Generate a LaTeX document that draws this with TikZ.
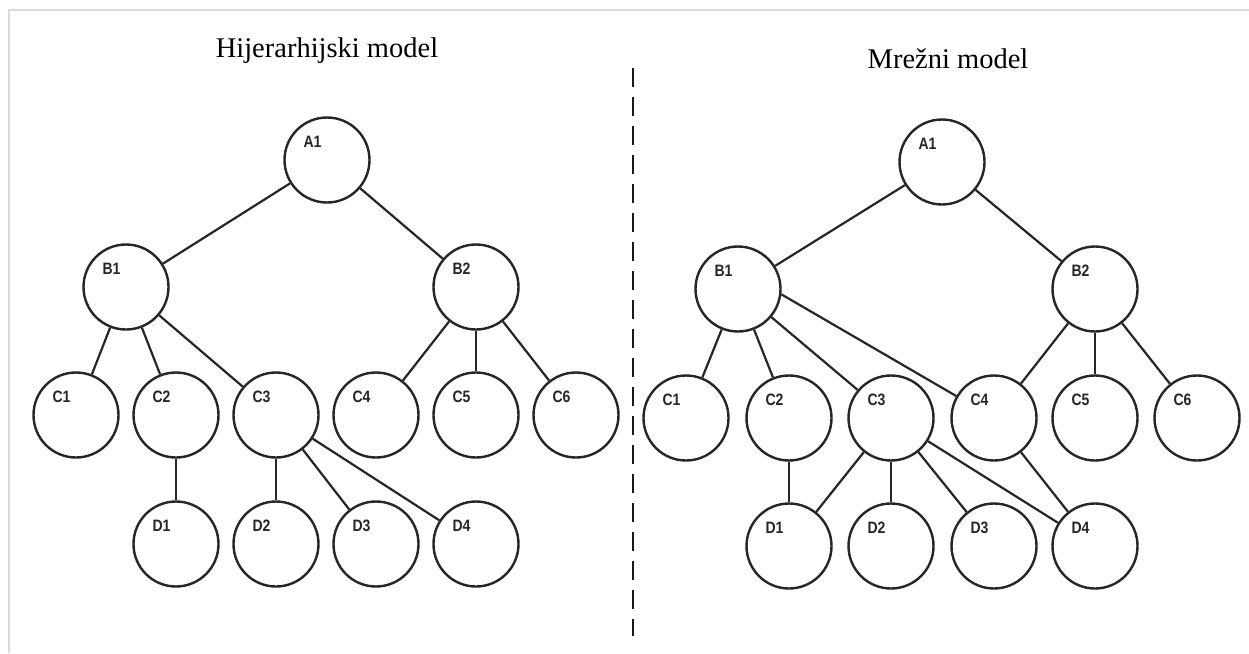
\documentclass[tikz,border=0pt]{standalone}
\usepackage{fontspec}
\setmainfont{Liberation Serif}
\newfontfamily\labfont[FakeStretch=0.85]{Liberation Sans Bold}
\begin{document}
\begin{tikzpicture}[x=1pt,y=-1pt,
  nd/.style={circle,draw=black!85,line width=2.4pt,minimum size=85pt,inner sep=0pt},
  lb/.style={font=\labfont\fontsize{16.5}{16.5}\selectfont,text=black!85,inner sep=0pt},
  ln/.style={draw=black!85,line width=2.2pt},
  ttl/.style={font=\fontsize{28.5}{30}\selectfont,inner sep=0pt,anchor=base}]
\useasboundingbox (0,0) rectangle (1249,653);
\fill[white] (0,0) rectangle (1249,653);
% frame
\draw[line width=2pt,black!15] (9,653) -- (9,9.5) -- (1249,9.5);
% titles
\node[ttl] (t1) at (327,57) {Hijerarhijski model};
\node[ttl] (t2) at (948,68) {Mre\v{z}ni model};
% divider
\coordinate (dtop) at (633,68);
\coordinate (dbot) at (633,636);
\draw[line width=2.3pt,black!90,dash pattern=on 19pt off 10pt] (dtop) -- (dbot);
% left tree
\foreach \n/\x/\y in {A1/327/160,B1/126/287,B2/476/287,
  C1/76/415,C2/176/415,C3/276/415,C4/376/415,C5/476/415,C6/576/415,
  D1/176/544,D2/276/544,D3/376/544,D4/476/544}{
  \node[nd] (L\n) at (\x,\y) {};
  \node[lb] (LL\n) at ([shift={(-14.5,-18)}]L\n.center) {\n};
}
\foreach \a/\b in {A1/B1,A1/B2,B1/C1,B1/C2,B1/C3,B2/C4,B2/C5,B2/C6,C2/D1,C3/D2,C3/D3,C3/D4}{
  \path[ln] (L\a) -- (L\b);
}
% right tree
\foreach \n/\x/\y in {A1/942/162,B1/738/289,B2/1095/289,
  C1/686/418,C2/789/418,C3/891/418,C4/994/418,C5/1095/418,C6/1197/418,
  D1/789/546,D2/891/546,D3/994/546,D4/1095/546}{
  \node[nd] (R\n) at (\x,\y) {};
  \node[lb] (RL\n) at ([shift={(-14.5,-18)}]R\n.center) {\n};
}
\foreach \a/\b in {A1/B1,A1/B2,B1/C1,B1/C2,B1/C3,B2/C4,B2/C5,B2/C6,C2/D1,C3/D1,C3/D2,C3/D3,C3/D4,C4/D4}{
  \path[ln] (R\a) -- (R\b);
}
\path[ln] (RB1.-7) -- (RC4);
\end{tikzpicture}
\end{document}
